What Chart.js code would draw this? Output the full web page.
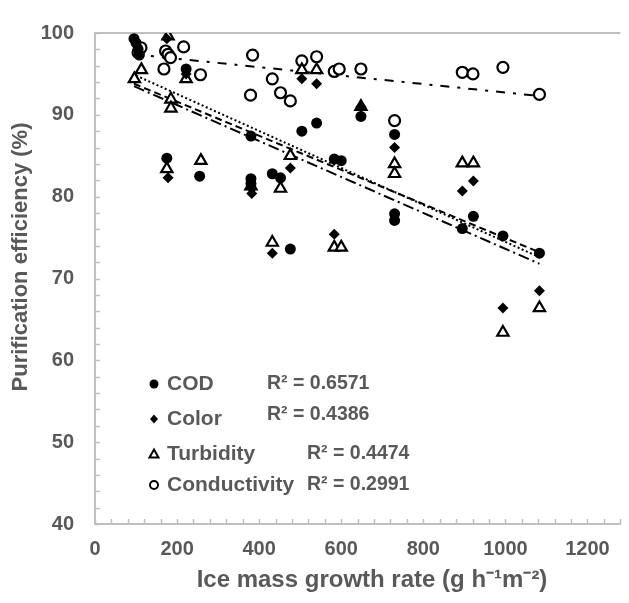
<!DOCTYPE html>
<html lang="en">
<head>
  <meta charset="UTF-8" />
  <title>Purification efficiency vs ice mass growth rate</title>
  <script src="https://cdn.jsdelivr.net/npm/chart.js"></script>
  <style>
    body { margin: 0; background: #fff; }
    #wrap { width: 629px; height: 603px; }
  </style>
</head>
<body>
  <div id="wrap"><canvas id="chart" width="629" height="603"></canvas></div>

  <script>
    // series names and R² values shown in the in-plot legend
    const seriesNames = ['COD', 'Color', 'Turbidity', 'Conductivity'];
    const r2Labels = ['R² = 0.6571', 'R² = 0.4386', 'R² = 0.4474', 'R² = 0.2991'];
    const xTitle = 'Ice mass growth rate (g h⁻¹m⁻²)';
    const yTitle = 'Purification efficiency (%)';

    const codX = [95, 100, 105, 108, 175, 222, 255, 380, 380, 380, 432, 452, 476, 504, 540, 583, 600, 648, 730, 730, 730, 895, 922, 994, 1083];
    const codY = [99.3, 98.8, 98.0, 97.3, 84.7, 95.6, 82.5, 87.4, 82.2, 81.6, 82.8, 82.3, 73.6, 88.0, 89.0, 84.6, 84.4, 89.8, 87.6, 77.9, 77.1, 76.1, 77.6, 75.2, 73.1];

    const colorX = [98, 103, 175, 178, 222, 382, 382, 432, 476, 504, 540, 583, 648, 730, 895, 922, 994, 1083];
    const colorY = [99.0, 98.4, 99.3, 82.3, 95.0, 81.0, 80.4, 73.1, 83.5, 94.4, 93.8, 75.4, 91.0, 86.0, 80.7, 81.9, 66.4, 68.5];

    const turbX = [96, 113, 178, 185, 185, 175, 222, 258, 380, 432, 452, 476, 504, 540, 583, 600, 648, 730, 730, 895, 922, 994, 1083];
    const turbY = [94.4, 95.5, 99.6, 91.9, 90.8, 83.4, 94.4, 84.4, 81.3, 74.4, 81.0, 85.0, 95.5, 95.5, 73.8, 73.8, 91.0, 84.0, 82.8, 84.1, 84.1, 63.4, 66.4];

    const condX = [105, 112, 168, 172, 178, 184, 216, 257, 384, 379, 432, 452, 476, 504, 540, 583, 595, 648, 730, 895, 921, 994, 1083];
    const condY = [97.6, 98.2, 95.6, 97.8, 97.4, 97.0, 98.3, 94.9, 97.3, 92.4, 94.4, 92.7, 91.7, 96.6, 97.1, 95.3, 95.6, 95.6, 89.3, 95.2, 95.0, 95.8, 92.5];

    // linear trend lines, end points
    const codTrendX = [95, 1083];
    const codTrendY = [93.8, 73.2];
    const colorTrendX = [95, 1083];
    const colorTrendY = [93.5, 71.8];
    const turbTrendX = [100, 1083];
    const turbTrendY = [94.8, 72.6];
    const condTrendX = [95, 1083];
    const condTrendY = [97.4, 92.3];

    const toPoints = (xs, ys) => xs.map((x, i) => ({ x: x, y: ys[i] }));

    const TEXT = '#595959';
    const AXIS = '#bfbfbf';
    const FONT = 'Liberation Sans, Arial, sans-serif';

    // inside minor ticks + top frame line
    const framePlugin = {
      id: 'frame',
      beforeDatasetsDraw(chart) {
        const { ctx, chartArea, scales } = chart;
        ctx.save();
        ctx.strokeStyle = AXIS;
        ctx.lineWidth = 2;
        ctx.beginPath();
        ctx.moveTo(chartArea.left, chartArea.top);
        ctx.lineTo(chartArea.right, chartArea.top);
        ctx.stroke();
        ctx.lineWidth = 1.5;
        ctx.beginPath();
        for (let v = 0; v <= scales.x.max; v += 40) {
          const px = Math.round(scales.x.getPixelForValue(v)) + 0.5;
          ctx.moveTo(px, chartArea.bottom);
          ctx.lineTo(px, chartArea.bottom - 5);
        }
        for (let v = scales.y.min; v <= scales.y.max; v += 2) {
          const py = Math.round(scales.y.getPixelForValue(v)) + 0.5;
          ctx.moveTo(chartArea.left, py);
          ctx.lineTo(chartArea.left + 5, py);
        }
        ctx.stroke();
        ctx.restore();
      }
    };

    // axis titles: the figure has them a little off the plot centre
    const titlesPlugin = {
      id: 'axisTitles',
      afterDraw(chart) {
        const { ctx } = chart;
        ctx.save();
        ctx.fillStyle = TEXT;
        ctx.textAlign = 'center';
        ctx.textBaseline = 'middle';
        ctx.font = 'bold 24px ' + FONT;
        ctx.fillText(xTitle, 372, 580);
        ctx.translate(21, 257);
        ctx.rotate(-Math.PI / 2);
        ctx.font = 'bold 22px ' + FONT;
        ctx.fillText(yTitle, 0, 0);
        ctx.restore();
      }
    };

    // legend drawn inside the plot, as in the figure
    const legendPlugin = {
      id: 'insideLegend',
      afterDraw(chart) {
        const { ctx, chartArea } = chart;
        const mx = chartArea.left + 59;
        const tx = chartArea.left + 72;
        const rows = [351, 386, 421, 452];
        const r2x = [172, 172, 212, 212];
        const r2dy = [0, -4, 0, 0];
        ctx.save();
        ctx.textBaseline = 'middle';
        rows.forEach((dy, i) => {
          const y = chartArea.top + dy;
          ctx.fillStyle = TEXT;
          ctx.font = 'bold 21px ' + FONT;
          ctx.fillText(seriesNames[i], tx, y);
          ctx.font = 'bold 19.5px ' + FONT;
          ctx.fillText(r2Labels[i], chartArea.left + r2x[i], y + r2dy[i]);
          // marker
          ctx.fillStyle = '#000';
          ctx.strokeStyle = '#000';
          ctx.lineWidth = 2;
          ctx.beginPath();
          if (i === 0) {
            ctx.arc(mx, y, 4.5, 0, Math.PI * 2);
            ctx.fill();
          } else if (i === 1) {
            ctx.moveTo(mx, y - 4.5); ctx.lineTo(mx + 4, y); ctx.lineTo(mx, y + 4.5); ctx.lineTo(mx - 4, y);
            ctx.closePath();
            ctx.fill();
          } else if (i === 2) {
            ctx.moveTo(mx, y - 4.5); ctx.lineTo(mx + 4.5, y + 3.5); ctx.lineTo(mx - 4.5, y + 3.5);
            ctx.closePath();
            ctx.stroke();
          } else {
            ctx.arc(mx, y, 4, 0, Math.PI * 2);
            ctx.stroke();
          }
        });
        ctx.restore();
      }
    };

    const trend = (label, xs, ys, dash) => ({
      type: 'line',
      label: label,
      data: toPoints(xs, ys),
      borderColor: '#000',
      borderWidth: 2,
      borderDash: dash,
      pointRadius: 0,
      fill: false
    });

    new Chart(document.getElementById('chart'), {
      type: 'scatter',
      data: {
        datasets: [
          {
            label: seriesNames[0], data: toPoints(codX, codY),
            pointStyle: 'circle', pointRadius: 5.5,
            backgroundColor: '#000', borderColor: '#000', borderWidth: 0
          },
          {
            label: seriesNames[1], data: toPoints(colorX, colorY),
            pointStyle: 'rectRot', pointRadius: 5.5,
            backgroundColor: '#000', borderColor: '#000', borderWidth: 0
          },
          {
            label: seriesNames[2], data: toPoints(turbX, turbY),
            pointStyle: 'triangle', pointRadius: 6.5,
            backgroundColor: '#fff', borderColor: '#000', borderWidth: 2.2
          },
          {
            label: seriesNames[3], data: toPoints(condX, condY),
            pointStyle: 'circle', pointRadius: 5.5,
            backgroundColor: '#fff', borderColor: '#000', borderWidth: 2.2
          },
          trend('COD trend', codTrendX, codTrendY, [7, 4]),
          trend('Color trend', colorTrendX, colorTrendY, [11, 4, 2, 4]),
          trend('Turbidity trend', turbTrendX, turbTrendY, [2, 2.5]),
          trend('Conductivity trend', condTrendX, condTrendY, [9, 8, 3, 8])
        ]
      },
      options: {
        responsive: false,
        devicePixelRatio: 1,
        animation: false,
        layout: { padding: { top: 26, right: 1, left: 0, bottom: 0 } },
        plugins: {
          legend: { display: false },
          tooltip: { enabled: false }
        },
        scales: {
          x: {
            type: 'linear',
            min: 0,
            max: 1280,
            afterFit(scale) { scale.height = 79; },
            grid: { display: false, drawTicks: false },
            border: { display: true, color: AXIS, width: 2 },
            ticks: {
              stepSize: 200,
              includeBounds: false,
              padding: 13,
              color: TEXT,
              font: { family: FONT, size: 20, weight: 'bold' },
              callback: v => (v % 200 === 0 ? v : '')
            }
          },
          y: {
            min: 40,
            max: 100,
            afterFit(scale) { scale.width = 95; },
            grid: { display: false, drawTicks: false },
            border: { display: true, color: AXIS, width: 2 },
            ticks: {
              stepSize: 10,
              padding: 21,
              color: TEXT,
              font: { family: FONT, size: 20, weight: 'bold' }
            }
          }
        }
      },
      plugins: [framePlugin, titlesPlugin, legendPlugin]
    });
  </script>
</body>
</html>
